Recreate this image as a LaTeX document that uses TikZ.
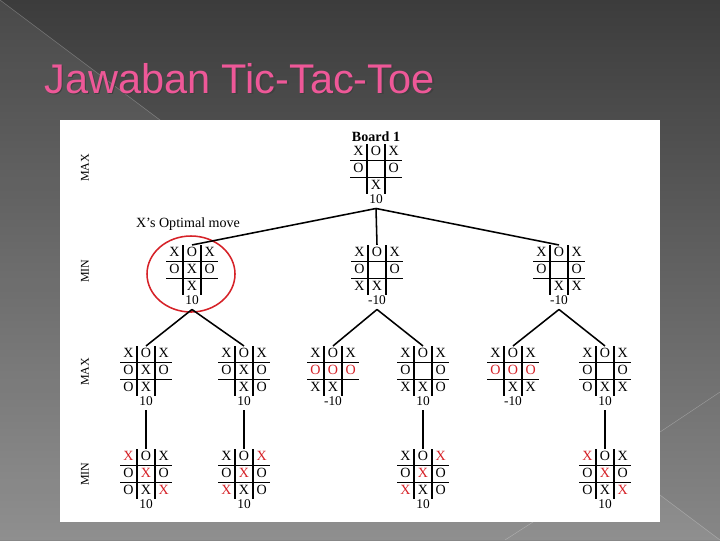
\documentclass[tikz,border=0pt]{standalone}
\usepackage{fontspec}
\setmainfont{Liberation Serif}
\newfontfamily\titlefont{Liberation Sans}
\usepackage{array}
\definecolor{tttred}{RGB}{214,34,40}
\definecolor{titlepink}{RGB}{238,88,152}
\definecolor{bgtop}{RGB}{60,60,60}
\definecolor{bgmid}{RGB}{80,80,80}
\definecolor{bgbottom}{RGB}{135,135,135}
\newcommand{\cellbox}[1]{\makebox[11.4pt]{\rule[-2.6pt]{0pt}{10.6pt}#1}}
\newcommand{\tttboard}[9]{{\fontsize{10}{10}\selectfont\setlength{\tabcolsep}{0pt}\setlength{\arrayrulewidth}{1.1pt}%
  \begin{tabular}{c|c|c}
  \cellbox{#1}&\cellbox{#2}&\cellbox{#3}\\\hline
  \cellbox{#4}&\cellbox{#5}&\cellbox{#6}\\\hline
  \cellbox{#7}&\cellbox{#8}&\cellbox{#9}
  \end{tabular}}}
\newcommand{\rX}{\textcolor{tttred}{X}}
\newcommand{\rO}{\textcolor{tttred}{O}}

\begin{document}
\begin{tikzpicture}[x=0.025cm, y=-0.025cm, node distance=0.75cm, auto,
  board/.style={inner sep=0pt},
  score/.style={font=\fontsize{9.5}{9.5}\selectfont},
  level/.style={rotate=90, font=\fontsize{8.5}{8.5}\selectfont},
  edge/.style={line width=1.1pt},
  optimal/.style={draw=tttred, line width=1.1pt}]
  \useasboundingbox (0,0) rectangle (720,540);
  \shade[top color=bgtop, middle color=bgmid, bottom color=bgbottom] (0,0) rectangle (720,540);
  \fill[white, opacity=0.07] (0,0) -- (720,540) -- (0,540) -- cycle;
  \draw[white, opacity=0.3, line width=0.3pt] (0,0) -- (720,540);
  \draw[white, opacity=0.3, line width=0.3pt] (660,432) -- (720,392);
  \draw[white, opacity=0.3, line width=0.3pt] (505,540) -- (533,522);
  \fill[white] (60,120) rectangle (660,522);

  \node (shadow) [anchor=base west, inner sep=0pt, text=black!75, font=\titlefont\fontsize{29.5}{29.5}\selectfont] at (45.5,94.5) {Jawaban Tic-Tac-Toe};
  \node (title) [anchor=base west, inner sep=0pt, text=titlepink, font=\titlefont\fontsize{29.5}{29.5}\selectfont] at (44,93) {Jawaban Tic-Tac-Toe};

  \node (max1) [level] at (85,168) {MAX};
  \node (min1) [level] at (85,271) {MIN};
  \node (max2) [level] at (85,372) {MAX};
  \node (min2) [level] at (85,474) {MIN};

  \node (R) [board] at (376,169) {\tttboard{X}{O}{X}{O}{}{O}{}{X}{}};
  \node (bR) [above of=R, node distance=0.82cm, inner sep=1pt] {\fontsize{10}{10}\selectfont\textbf{Board 1}};
  \node (vR) [score, below of=R] {10};

  \node (A) [board] at (192,270) {\tttboard{X}{O}{X}{O}{X}{O}{}{X}{}};
  \node (vA) [score, below of=A] {10};
  \node (B) [board] at (377,270) {\tttboard{X}{O}{X}{O}{}{O}{X}{X}{}};
  \node (vB) [score, below of=B] {-10};
  \node (C) [board] at (559,270) {\tttboard{X}{O}{X}{O}{}{O}{}{X}{X}};
  \node (vC) [score, below of=C] {-10};

  \node (A1) [board] at (146,371) {\tttboard{X}{O}{X}{O}{X}{O}{O}{X}{}};
  \node (vA1) [score, below of=A1] {10};
  \node (A2) [board] at (244,371) {\tttboard{X}{O}{X}{O}{X}{O}{}{X}{O}};
  \node (vA2) [score, below of=A2] {10};
  \node (B1) [board] at (333,371) {\tttboard{X}{O}{X}{\rO}{\rO}{\rO}{X}{X}{}};
  \node (vB1) [score, below of=B1] {-10};
  \node (B2) [board] at (423,371) {\tttboard{X}{O}{X}{O}{}{O}{X}{X}{O}};
  \node (vB2) [score, below of=B2] {10};
  \node (C1) [board] at (513,371) {\tttboard{X}{O}{X}{\rO}{\rO}{\rO}{}{X}{X}};
  \node (vC1) [score, below of=C1] {-10};
  \node (C2) [board] at (605,371) {\tttboard{X}{O}{X}{O}{}{O}{O}{X}{X}};
  \node (vC2) [score, below of=C2] {10};

  \node (A1m) [board, below of=A1, node distance=2.575cm] {\tttboard{\rX}{O}{X}{O}{\rX}{O}{O}{X}{\rX}};
  \node (vA1m) [score, below of=A1m] {10};
  \node (A2m) [board, below of=A2, node distance=2.575cm] {\tttboard{X}{O}{\rX}{O}{\rX}{O}{\rX}{X}{O}};
  \node (vA2m) [score, below of=A2m] {10};
  \node (B2m) [board, below of=B2, node distance=2.575cm] {\tttboard{X}{O}{\rX}{O}{\rX}{O}{\rX}{X}{O}};
  \node (vB2m) [score, below of=B2m] {10};
  \node (C2m) [board, below of=C2, node distance=2.575cm] {\tttboard{\rX}{O}{X}{O}{\rX}{O}{O}{X}{\rX}};
  \node (vC2m) [score, below of=C2m] {10};

  \node (opt) [font=\fontsize{10}{10}\selectfont] at (188,224) {X's Optimal move};
  \draw[optimal] (191,274) ellipse [x radius=44, y radius=38];

  \draw[edge] (vR.south) to (A.north);
  \draw[edge] (vR.south) to (B.north);
  \draw[edge] (vR.south) to (C.north);
  \draw[edge] (vA.south) to (A1.north);
  \draw[edge] (vA.south) to (A2.north);
  \draw[edge] (vB.south) to (B1.north);
  \draw[edge] (vB.south) to (B2.north);
  \draw[edge] (vC.south) to (C1.north);
  \draw[edge] (vC.south) to (C2.north);
  \draw[edge] (vA1.south) to (A1m.north);
  \draw[edge] (vA2.south) to (A2m.north);
  \draw[edge] (vB2.south) to (B2m.north);
  \draw[edge] (vC2.south) to (C2m.north);
\end{tikzpicture}
\end{document}
